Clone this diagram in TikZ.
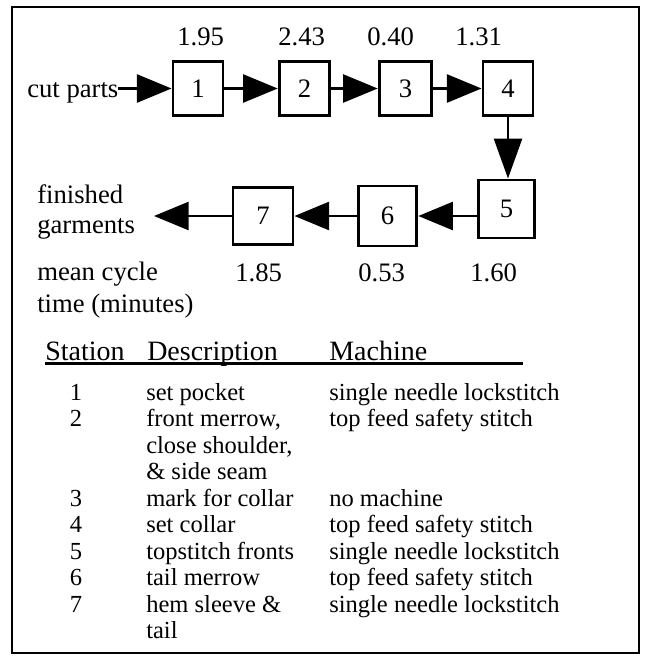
\documentclass[tikz,border=0pt]{standalone}
\usepackage{fontspec}
\setmainfont{Liberation Serif}
\usetikzlibrary{arrows.meta}
\tikzset{
  lbl/.style={anchor=base west, inner sep=0pt, font=\fontsize{20}{24}\selectfont},
  hdr/.style={anchor=base west, inner sep=0pt, font=\fontsize{21}{25}\selectfont},
  tbl/.style={anchor=base west, inner sep=0pt, font=\fontsize{18.4}{22}\selectfont},
  tnum/.style={anchor=base, inner sep=0pt, font=\fontsize{18.4}{22}\selectfont},
  stbox/.style={draw, line width=2.2pt, inner sep=0pt, font=\fontsize{20}{24}\selectfont},
  arr/.style={line width=2pt, -{Triangle[length=26pt,width=21pt]}},
  varr/.style={line width=2pt, -{Triangle[length=30pt,width=21pt]}},
  frame/.style={draw, line width=2pt}
}
\begin{document}
\begin{tikzpicture}[x=0.75pt,y=-0.75pt]
\useasboundingbox (0,0) rectangle (644,657);
\draw[frame] (12,7) rectangle (639,653);
% times above
\node[lbl] (t1) at (177,45) {1.95};
\node[lbl] (t2) at (278,45) {2.43};
\node[lbl] (t3) at (367,45) {0.40};
\node[lbl] (t4) at (455,45) {1.31};
% stations row 1
\node[stbox, minimum width=37.5pt, minimum height=40.5pt] (b1) at (198,88.5) {1};
\node[stbox, minimum width=38pt, minimum height=40.5pt] (b2) at (304.5,88.5) {2};
\node[stbox, minimum width=39.5pt, minimum height=40.5pt] (b3) at (405.5,88.5) {3};
\node[stbox, minimum width=37.5pt, minimum height=40.5pt] (b4) at (508,88.5) {4};
% stations row 2
\node[stbox, minimum width=42.5pt, minimum height=43.5pt] (b5) at (506.5,209) {5};
\node[stbox, minimum width=44pt, minimum height=45pt] (b6) at (387.5,216) {6};
\node[stbox, minimum width=45pt, minimum height=43pt] (b7) at (263,216) {7};
% left labels
\node[lbl] (cut) at (27,97) {cut parts};
\coordinate (cutend) at (118,88.5);
\node[lbl] (fin1) at (37,203) {finished};
\node[lbl] (fin2) at (37,233) {garments};
\coordinate (out) at (154,216);
\node[lbl] (mc1) at (37,280) {mean cycle};
\node[lbl] (mc2) at (37,312) {time (minutes)};
% times below
\node[lbl] (t7) at (235,281) {1.85};
\node[lbl] (t6) at (358,281) {0.53};
\node[lbl] (t5) at (470,281) {1.60};
% connectors
\draw[arr] (cutend) -- (b1.west);
\draw[arr] (b1.east) -- (b2.west);
\draw[arr] (b2.east) -- (b3.west);
\draw[arr] (b3.east) -- (b4.west);
\draw[varr] (b4.south) -- (b4.south |- b5.north);
\draw[arr] (b5.west |- b6.east) -- (b6.east);
\draw[arr] (b6.west) -- (b7.east);
\draw[arr] (b7.west) -- (out);
% table header
\node[hdr] (hs) at (45,360) {Station};
\node[hdr] (hd) at (147,360) {Description};
\node[hdr] (hm) at (329,360) {Machine};
\draw[line width=1.6pt] (45,363.5) -- (523,363.5);
% table rows
\node[tnum] (n1) at (76,400) {1};
\node[tbl] (d1) at (146,400) {set pocket};
\node[tbl] (m1) at (329,400) {single needle lockstitch};
\node[tnum] (n2) at (76,426.5) {2};
\node[tbl] (d2a) at (146,426.5) {front merrow,};
\node[tbl] (m2) at (329,426.5) {top feed safety stitch};
\node[tbl] (d2b) at (146,453) {close shoulder,};
\node[tbl] (d2c) at (146,479.5) {\& side seam};
\node[tnum] (n3) at (76,506) {3};
\node[tbl] (d3) at (146,506) {mark for collar};
\node[tbl] (m3) at (329,506) {no machine};
\node[tnum] (n4) at (76,532.5) {4};
\node[tbl] (d4) at (146,532.5) {set collar};
\node[tbl] (m4) at (329,532.5) {top feed safety stitch};
\node[tnum] (n5) at (76,559) {5};
\node[tbl] (d5) at (146,559) {topstitch fronts};
\node[tbl] (m5) at (329,559) {single needle lockstitch};
\node[tnum] (n6) at (76,585.5) {6};
\node[tbl] (d6) at (146,585.5) {tail merrow};
\node[tbl] (m6) at (329,585.5) {top feed safety stitch};
\node[tnum] (n7) at (76,612) {7};
\node[tbl] (d7a) at (146,612) {hem sleeve \&};
\node[tbl] (m7) at (329,612) {single needle lockstitch};
\node[tbl] (d7b) at (146,638.5) {tail};
\end{tikzpicture}
\end{document}
